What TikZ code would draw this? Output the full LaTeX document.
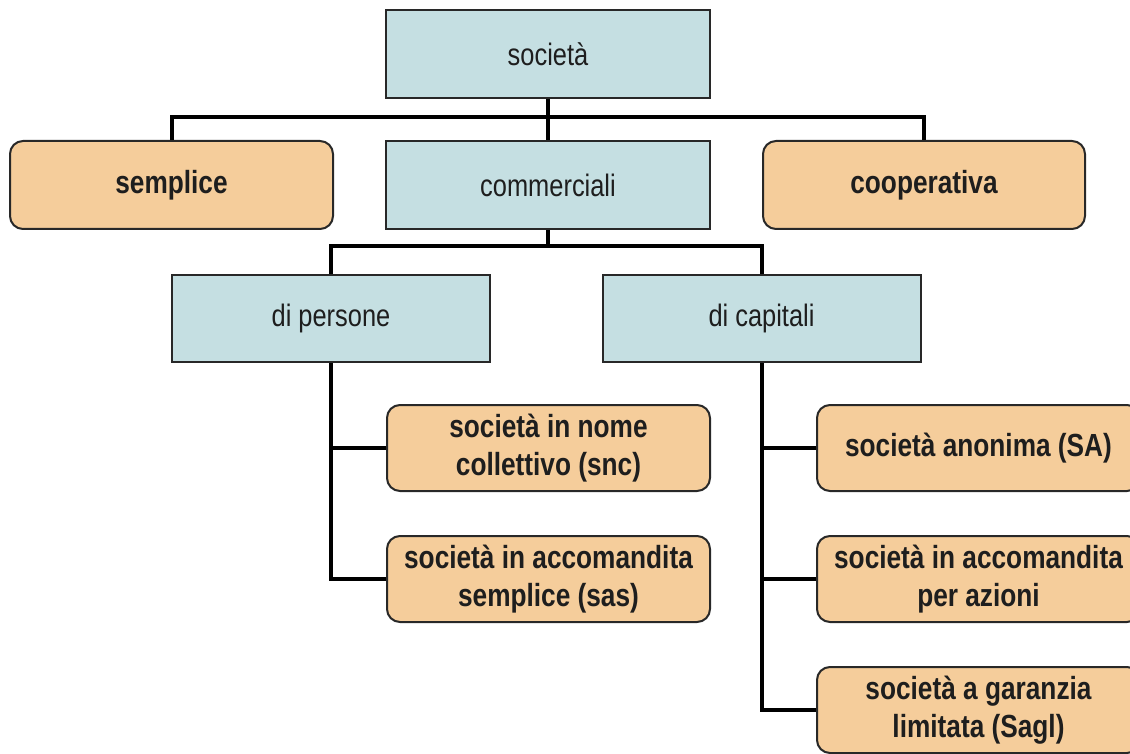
\documentclass[tikz,border=0pt]{standalone}
\usepackage{fontspec}
\newfontfamily\libsans[FakeStretch=0.82]{Liberation Sans}
\definecolor{boxblue}{RGB}{197,223,226}
\definecolor{boxorange}{RGB}{245,205,155}
\definecolor{boxborder}{RGB}{40,40,40}
\definecolor{txt}{RGB}{30,30,30}
\tikzset{
  bluebox/.style={draw=boxborder, line width=2pt, fill=boxblue, minimum width=#1, minimum height=88pt, inner sep=0pt, align=center, text=txt, font=\libsans\fontsize{31}{38}\selectfont},
  orangebox/.style={draw=boxborder, line width=2pt, fill=boxorange, rounded corners=13pt, minimum width=323pt, minimum height=86pt, inner sep=0pt, align=center, text=txt, font=\libsans\bfseries\fontsize{32}{38}\selectfont},
  conn/.style={draw=black, line width=4pt}
}
\begin{document}
\begin{tikzpicture}[x=1pt,y=-1pt]
\useasboundingbox (0,0) rectangle (1130,754);
\clip (0,0) rectangle (1130,754);
\fill[white] (0,0) rectangle (1130,754);
% boxes
\node[bluebox=324pt] (soc) at (548,54) {società};
\node[bluebox=324pt] (comm) at (548,185) {commerciali};
\node[orangebox, minimum height=88pt] (semp) at (171.5,185) {semplice};
\node[orangebox, minimum height=88pt, minimum width=322pt] (coop) at (924,185) {cooperativa};
\node[bluebox=318pt, minimum height=87pt] (pers) at (331,318.5) {di persone};
\node[bluebox=318pt, minimum height=87pt] (cap) at (761.5,318.5) {di capitali};
\node[orangebox] (snc) at (548.5,448) {società in nome\\collettivo (snc)};
\node[orangebox] (sas) at (548.5,579) {società in accomandita\\semplice (sas)};
\node[orangebox] (sa) at (978.5,448) {società anonima (SA)};
\node[orangebox] (sapa) at (978.5,579) {società in accomandita\\per azioni};
\node[orangebox] (sagl) at (978.5,710) {società a garanzia\\limitata (Sagl)};
% connectors
\draw[conn] (soc.south) -- (comm.north);
\draw[conn] (semp.north) -- ++(0,-23) -| (coop.north);
\draw[conn] (comm.south) -- ++(0,16) coordinate (j2);
\draw[conn] (pers.north) |- (j2) -| (cap.north);
\draw[conn] (pers.south) |- (sas.west);
\draw[conn] (snc.west) -- (pers.south |- snc.west);
\draw[conn] (cap.south) |- (sagl.west);
\draw[conn] (sa.west) -- (cap.south |- sa.west);
\draw[conn] (sapa.west) -- (cap.south |- sapa.west);
\end{tikzpicture}
\end{document}
